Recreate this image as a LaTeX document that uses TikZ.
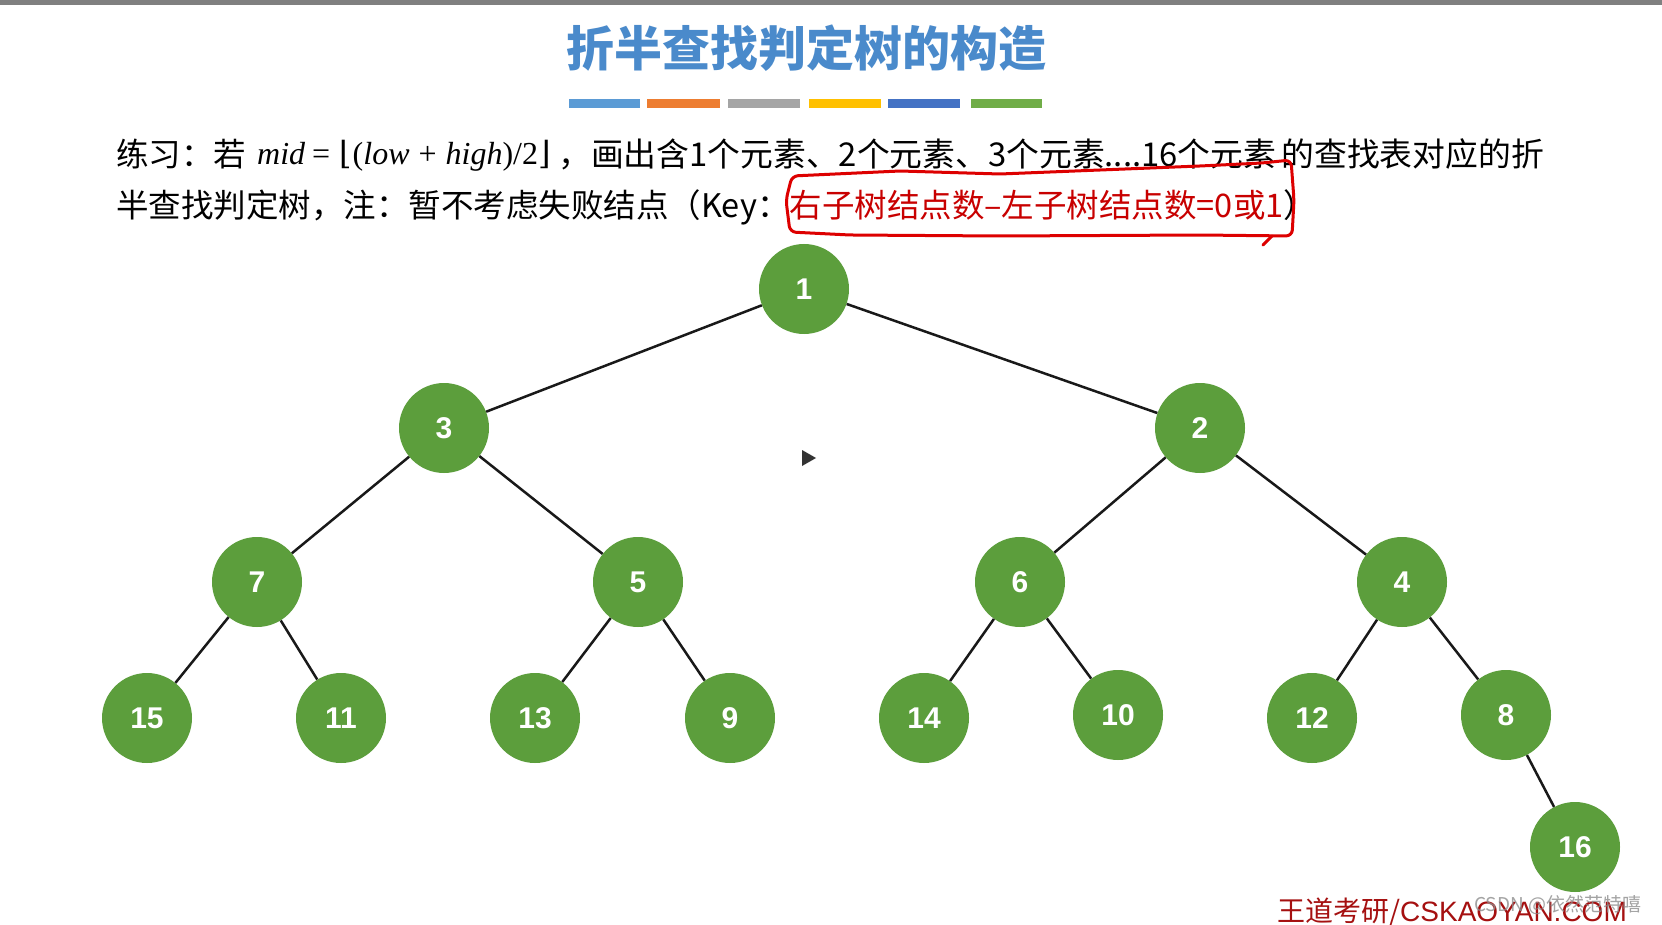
\documentclass[tikz,border=0pt]{standalone}
\usepackage{fontspec}
\setmainfont{Noto Sans CJK SC}
\newfontfamily\numfont{Liberation Sans}
\newfontfamily\serif{Liberation Serif}
\newfontfamily\dvserif{DejaVu Serif}
\definecolor{titleblue}{HTML}{4A8ACB}
\definecolor{nodegreen}{HTML}{5C9E3C}
\definecolor{keyred}{HTML}{C80000}
\definecolor{boxred}{HTML}{DD0000}
\definecolor{wmred}{HTML}{A51010}
\definecolor{barA}{HTML}{5B9BD5}
\definecolor{barB}{HTML}{ED7D31}
\definecolor{barC}{HTML}{A5A5A5}
\definecolor{barD}{HTML}{FFC000}
\definecolor{barE}{HTML}{4472C4}
\definecolor{barF}{HTML}{70AD47}
\newcommand{\mi}[1]{{\itshape #1}}
\begin{document}
\begin{tikzpicture}[x=1pt,y=-1pt,
  tnode/.style={circle,fill=nodegreen,minimum size=90pt,inner sep=0pt,text=white,font=\numfont\bfseries\fontsize{30}{30}\selectfont},
  edge/.style={line width=2.5pt,black!90},
  body/.style={anchor=west,inner sep=0pt,font=\fontsize{32.5}{32.5}\selectfont},
  formula/.style={anchor=base west,inner sep=0pt,font=\serif\fontsize{32}{32}\selectfont}]
\useasboundingbox (0,0) rectangle (1662,925);
\fill[white] (0,0) rectangle (1662,925);
\fill[black!50] (0,0) rectangle (1662,5);
% title
\node[font=\bfseries\fontsize{48}{48}\selectfont,text=titleblue,inner sep=0pt] (title) at (806,48) {折半查找判定树的构造};
% colour bars
\foreach \xa/\xb/\c in {569/640/barA,647/720/barB,728/800/barC,809/881/barD,888/960/barE,971/1042/barF}
  \fill[\c] (\xa,99) rectangle (\xb,108);
% text lines
\node[body] (l1a) at (116,154) {练习：若};
\node[formula] (l1m) at (257,165)
  {\mi{mid}\hspace{7pt}=\hspace{9pt}{\dvserif ⌊}\hspace{1pt}(\mi{low}\hspace{9pt}+\hspace{9pt}\mi{high})/2{\dvserif ⌋}};
\node[body,font=\fontsize{32.8}{32.8}\selectfont] (l1b) at (558,154) {，画出含1个元素、2个元素、3个元素....16个元素\,的查找表对应的折};
\node[body] (l2) at (116,207)
  {半查找判定树，注：暂不考虑失败结点（Key：\textcolor{keyred}{右子树结点数–左子树结点数=0或1}）};
% red hand-drawn box
\draw[boxred,line width=3pt,line join=round,line cap=round,rounded corners=6pt]
  (792,176) -- (900,171) -- (1000,174) -- (1100,170) -- (1200,166) -- (1262,163) -- (1291,160)
  -- (1294,200) -- (1292,236) -- (1200,235) -- (1000,236) -- (850,235) -- (790,232) -- (786,200) -- cycle;
\draw[boxred,line width=3pt,line cap=round] (1272,236) -- (1263,245);
% tree nodes
\node[tnode] (n1) at (804,289) {1};
\node[tnode] (n3) at (444,428) {3};
\node[tnode] (n2) at (1200,428) {2};
\node[tnode] (n7) at (257,582) {7};
\node[tnode] (n5) at (638,582) {5};
\node[tnode] (n6) at (1020,582) {6};
\node[tnode] (n4) at (1402,582) {4};
\node[tnode] (n15) at (147,718) {15};
\node[tnode] (n11) at (341,718) {11};
\node[tnode] (n13) at (535,718) {13};
\node[tnode] (n9) at (730,718) {9};
\node[tnode] (n14) at (924,718) {14};
\node[tnode] (n10) at (1118,715) {10};
\node[tnode] (n12) at (1312,718) {12};
\node[tnode] (n8) at (1506,715) {8};
\node[tnode] (n16) at (1575,847) {16};
\foreach \a/\b in {n1/n3,n1/n2,n3/n7,n3/n5,n2/n6,n2/n4,n7/n15,n7/n11,n5/n13,n5/n9,n6/n14,n6/n10,n4/n12,n4/n8,n8/n16}
  \draw[edge] (\a) -- (\b);
% play marker
\fill[black!80] (802,450) -- (816,458) -- (802,466) -- cycle;
% watermarks
\node[anchor=west,inner sep=0pt,text=wmred,font=\fontsize{28}{28}\selectfont] (wm) at (1277,912) {王道考研/\numfont CSKAOYAN.COM};
\node[anchor=west,inner sep=0pt,text=black!45,opacity=0.8,font=\fontsize{19}{19}\selectfont] (csdn) at (1474,905) {CSDN @依然范特嘻};
\end{tikzpicture}
\end{document}
